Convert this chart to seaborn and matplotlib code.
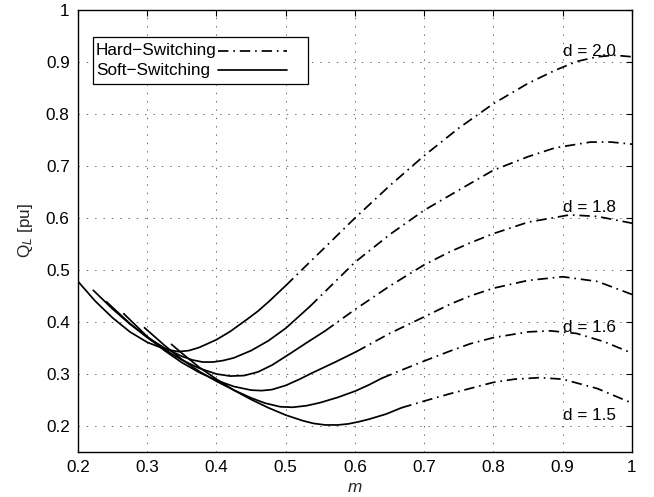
import matplotlib
matplotlib.use("Agg")
import matplotlib.pyplot as plt
import seaborn as sns
import pandas as pd
from matplotlib.lines import Line2D
from matplotlib.patches import Rectangle

# ---------------- data ----------------
d_labels = ["d = 2.0", "d = 1.8", "d = 1.6", "d = 1.5"]
label_y = [0.92, 0.62, 0.39, 0.22]
label_x = 0.90

legend_labels = ["Hard\u2212Switching", "Soft\u2212Switching"]

x_ticks = [0.2, 0.3, 0.4, 0.5, 0.6, 0.7, 0.8, 0.9, 1.0]
x_tick_labels = ["0.2", "0.3", "0.4", "0.5", "0.6", "0.7", "0.8", "0.9", "1"]
y_ticks = [0.2, 0.3, 0.4, 0.5, 0.6, 0.7, 0.8, 0.9, 1.0]
y_tick_labels = ["0.2", "0.3", "0.4", "0.5", "0.6", "0.7", "0.8", "0.9", "1"]

# d = 2.0
m_soft_20 = [0.200, 0.225, 0.250, 0.275, 0.300, 0.325, 0.345, 0.360, 0.375, 0.400, 0.420, 0.444, 0.460, 0.477, 0.500]
q_soft_20 = [0.478, 0.440, 0.408, 0.381, 0.361, 0.348, 0.343, 0.345, 0.351, 0.366, 0.382, 0.405, 0.421, 0.441, 0.470]
m_hard_20 = [0.500, 0.550, 0.600, 0.650, 0.700, 0.750, 0.800, 0.850, 0.889, 0.920, 0.950, 0.975, 1.000]
q_hard_20 = [0.470, 0.535, 0.600, 0.662, 0.720, 0.773, 0.820, 0.859, 0.884, 0.901, 0.910, 0.913, 0.910]

# d = 1.9
m_soft_19 = [0.222, 0.250, 0.275, 0.300, 0.325, 0.350, 0.365, 0.380, 0.395, 0.410, 0.425, 0.450, 0.475, 0.500, 0.535]
q_soft_19 = [0.461, 0.425, 0.396, 0.371, 0.350, 0.334, 0.327, 0.323, 0.323, 0.326, 0.331, 0.345, 0.364, 0.388, 0.430]
m_hard_19 = [0.535, 0.600, 0.650, 0.700, 0.766, 0.800, 0.850, 0.889, 0.940, 0.970, 1.000]
q_hard_19 = [0.430, 0.515, 0.568, 0.615, 0.666, 0.692, 0.718, 0.735, 0.746, 0.746, 0.742]

# d = 1.8
m_soft_18 = [0.241, 0.275, 0.300, 0.325, 0.350, 0.375, 0.400, 0.420, 0.440, 0.460, 0.480, 0.506, 0.530, 0.557]
q_soft_18 = [0.439, 0.397, 0.370, 0.347, 0.327, 0.311, 0.300, 0.296, 0.297, 0.304, 0.317, 0.339, 0.360, 0.383]
m_hard_18 = [0.557, 0.600, 0.650, 0.700, 0.737, 0.766, 0.800, 0.850, 0.910, 0.950, 1.000]
q_hard_18 = [0.383, 0.424, 0.469, 0.510, 0.535, 0.552, 0.570, 0.592, 0.606, 0.603, 0.590]

# d = 1.7
m_soft_17 = [0.266, 0.300, 0.325, 0.350, 0.375, 0.400, 0.425, 0.450, 0.465, 0.480, 0.500, 0.520, 0.538, 0.570, 0.602]
q_soft_17 = [0.416, 0.372, 0.345, 0.322, 0.303, 0.288, 0.276, 0.269, 0.268, 0.270, 0.278, 0.290, 0.302, 0.322, 0.343]
m_hard_17 = [0.602, 0.650, 0.700, 0.737, 0.766, 0.800, 0.850, 0.900, 0.950, 1.000]
q_hard_17 = [0.343, 0.378, 0.410, 0.434, 0.450, 0.465, 0.480, 0.487, 0.478, 0.453]

# d = 1.6
m_soft_16 = [0.296, 0.325, 0.350, 0.375, 0.400, 0.425, 0.450, 0.470, 0.492, 0.510, 0.530, 0.550, 0.575, 0.600, 0.620, 0.639]
q_soft_16 = [0.389, 0.355, 0.328, 0.305, 0.286, 0.269, 0.254, 0.244, 0.237, 0.236, 0.239, 0.245, 0.255, 0.267, 0.279, 0.292]
m_hard_16 = [0.639, 0.670, 0.700, 0.737, 0.766, 0.800, 0.850, 0.882, 0.920, 0.960, 1.000]
q_hard_16 = [0.292, 0.309, 0.325, 0.344, 0.358, 0.370, 0.381, 0.383, 0.378, 0.362, 0.340]

# d = 1.5
m_soft_15 = [0.335, 0.350, 0.375, 0.400, 0.425, 0.450, 0.475, 0.500, 0.525, 0.540, 0.557, 0.575, 0.590, 0.605, 0.620, 0.645, 0.667]
q_soft_15 = [0.357, 0.340, 0.313, 0.290, 0.269, 0.251, 0.235, 0.221, 0.210, 0.205, 0.202, 0.202, 0.204, 0.208, 0.213, 0.223, 0.235]
m_hard_15 = [0.667, 0.700, 0.737, 0.800, 0.830, 0.867, 0.900, 0.950, 1.000]
q_hard_15 = [0.235, 0.248, 0.262, 0.284, 0.290, 0.293, 0.290, 0.272, 0.244]

segments = [
    ("2.0", "soft", m_soft_20, q_soft_20), ("2.0", "hard", m_hard_20, q_hard_20),
    ("1.9", "soft", m_soft_19, q_soft_19), ("1.9", "hard", m_hard_19, q_hard_19),
    ("1.8", "soft", m_soft_18, q_soft_18), ("1.8", "hard", m_hard_18, q_hard_18),
    ("1.7", "soft", m_soft_17, q_soft_17), ("1.7", "hard", m_hard_17, q_hard_17),
    ("1.6", "soft", m_soft_16, q_soft_16), ("1.6", "hard", m_hard_16, q_hard_16),
    ("1.5", "soft", m_soft_15, q_soft_15), ("1.5", "hard", m_hard_15, q_hard_15),
]

# ---------------- style ----------------
sns.set_style("white")
plt.rcParams["font.family"] = ["Liberation Sans", "DejaVu Sans"]
plt.rcParams["mathtext.fontset"] = "custom"
plt.rcParams["mathtext.rm"] = "Liberation Sans"
plt.rcParams["mathtext.it"] = "Liberation Sans:italic"
plt.rcParams["lines.scale_dashes"] = False
plt.rcParams["xtick.direction"] = "in"
plt.rcParams["ytick.direction"] = "in"
plt.rcParams["xtick.top"] = True
plt.rcParams["ytick.right"] = True

FS = 12.3
LW = 1.25
DASHDOT = (0, (7.5, 3.5, 1.2, 3.5))

W, H = 654, 497
AX_L, AX_R, AX_T, AX_B = 78, 632, 10, 452

fig = plt.figure(figsize=(W / 100, H / 100), dpi=100)
ax = fig.add_axes([AX_L / W, 1 - AX_B / H, (AX_R - AX_L) / W, (AX_B - AX_T) / H])

for d, mode, mv, qv in segments:
    df = pd.DataFrame({"m": mv, "QL": qv})
    ls = "-" if mode == "soft" else DASHDOT
    sns.lineplot(data=df, x="m", y="QL", ax=ax, color="black", linewidth=LW,
                 linestyle=ls, sort=False, estimator=None, legend=False)

ax.set_xlim(0.2, 1.0)
ax.set_ylim(0.15, 1.0)
ax.set_xticks(x_ticks)
ax.set_xticklabels(x_tick_labels, fontsize=FS)
ax.set_yticks(y_ticks)
ax.set_yticklabels(y_tick_labels, fontsize=FS)
ax.tick_params(axis="both", which="both", length=4, width=0.8, color="black",
               pad=6, labelcolor="black")
ax.grid(True, linestyle=(0, (1, 5)), linewidth=0.7, color="0.4")
for s in ax.spines.values():
    s.set_color("black")
    s.set_linewidth(1.0)

ax.set_xlabel("$m$", fontsize=FS, labelpad=3)
ax.set_ylabel("Q$_{L}$ [pu]", fontsize=FS, labelpad=8)

for lab, ly in zip(d_labels, label_y):
    ax.text(label_x, ly, lab, fontsize=FS, va="center", ha="left", color="black")


# ---------------- MATLAB-style legend (text left, sample right) ----------------
def fx(px):
    return (px - AX_L) / (AX_R - AX_L)


def fy(py):
    return (AX_B - py) / (AX_B - AX_T)


ax.add_patch(Rectangle((fx(92.5), fy(84.5)), fx(308.5) - fx(92.5), fy(37.5) - fy(84.5),
                       transform=ax.transAxes, facecolor="white", edgecolor="black",
                       linewidth=0.9, zorder=5))
row_y = [51.0, 70.5]
styles = [DASHDOT, "-"]
for lab, ry, st in zip(legend_labels, row_y, styles):
    ax.text(fx(96), fy(ry), lab, transform=ax.transAxes, fontsize=FS,
            va="center", ha="left", color="black", zorder=6)
    ax.add_line(Line2D([fx(218), fx(287)], [fy(ry), fy(ry)], transform=ax.transAxes,
                       color="black", linewidth=LW, linestyle=st, zorder=6))

fig.savefig("out.png", dpi=100)
